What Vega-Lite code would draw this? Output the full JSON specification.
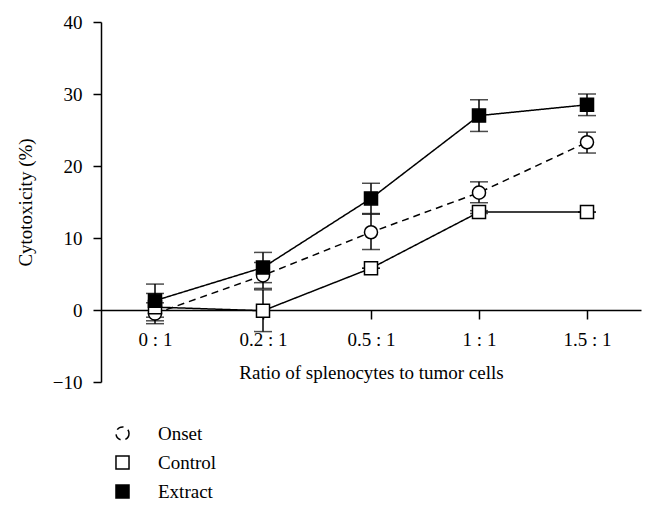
{
  "$schema": "https://vega.github.io/schema/vega-lite/v6.json",
  "width": 540,
  "height": 360,
  "autosize": {"type": "none"},
  "padding": {"left": 101, "top": 22, "right": 15, "bottom": 128},
  "background": "white",
  "config": {
    "font": "Liberation Serif",
    "view": {"stroke": null},
    "axis": {"labelFont": "Liberation Serif", "titleFont": "Liberation Serif", "labelFontSize": 19, "titleFontSize": 19, "titleFontWeight": "normal", "labelColor": "black", "titleColor": "black", "domainColor": "black", "tickColor": "black", "domainWidth": 1.5, "tickWidth": 1.5, "grid": false},
    "legend": {"labelFont": "Liberation Serif", "labelFontSize": 19, "labelColor": "black"}
  },
  "data": {
    "values": [
      {"ratio": "0 : 1", "series": "Onset", "mean": -0.5, "lo": -1.9, "hi": 1.0},
      {"ratio": "0.2 : 1", "series": "Onset", "mean": 4.8, "lo": 3.0, "hi": 6.6},
      {"ratio": "0.5 : 1", "series": "Onset", "mean": 10.8, "lo": 8.4, "hi": 13.3},
      {"ratio": "1 : 1", "series": "Onset", "mean": 16.3, "lo": 14.9, "hi": 17.8},
      {"ratio": "1.5 : 1", "series": "Onset", "mean": 23.3, "lo": 21.8, "hi": 24.7},
      {"ratio": "0 : 1", "series": "Control", "mean": 0.4, "lo": -1.5, "hi": 2.3},
      {"ratio": "0.2 : 1", "series": "Control", "mean": -0.1, "lo": -3.0, "hi": 2.8},
      {"ratio": "0.5 : 1", "series": "Control", "mean": 5.8, "lo": 5.8, "hi": 5.8},
      {"ratio": "1 : 1", "series": "Control", "mean": 13.6, "lo": 13.4, "hi": 13.8},
      {"ratio": "1.5 : 1", "series": "Control", "mean": 13.6, "lo": 13.6, "hi": 13.6},
      {"ratio": "0 : 1", "series": "Extract", "mean": 1.3, "lo": -1.0, "hi": 3.6},
      {"ratio": "0.2 : 1", "series": "Extract", "mean": 5.9, "lo": 3.8, "hi": 8.0},
      {"ratio": "0.5 : 1", "series": "Extract", "mean": 15.5, "lo": 13.4, "hi": 17.6},
      {"ratio": "1 : 1", "series": "Extract", "mean": 27.0, "lo": 24.8, "hi": 29.2},
      {"ratio": "1.5 : 1", "series": "Extract", "mean": 28.5, "lo": 27.0, "hi": 30.0}
    ]
  },
  "encoding": {
    "x": {
      "field": "ratio", "type": "nominal",
      "sort": ["0 : 1", "0.2 : 1", "0.5 : 1", "1 : 1", "1.5 : 1"],
      "scale": {"type": "point", "padding": 0.5},
      "axis": {"title": "Ratio of splenocytes to tumor cells", "labelAngle": 0, "offset": -72, "tickSize": 9, "labelPadding": 11, "titlePadding": 14}
    }
  },
  "layer": [
    {
      "mark": {"type": "rule", "color": "black", "strokeWidth": 1.5},
      "encoding": {
        "y": {"field": "lo", "type": "quantitative", "scale": {"domain": [-10, 40], "nice": false}, "axis": {"title": "Cytotoxicity (%)", "values": [-10, 0, 10, 20, 30, 40], "tickSize": 8, "labelPadding": 11, "titlePadding": 17}},
        "y2": {"field": "hi"},
        "detail": {"field": "series"}
      }
    },
    {
      "mark": {"type": "tick", "color": "black", "thickness": 1.5, "size": 18},
      "encoding": {"y": {"field": "lo", "type": "quantitative"}}
    },
    {
      "mark": {"type": "tick", "color": "black", "thickness": 1.5, "size": 18},
      "encoding": {"y": {"field": "hi", "type": "quantitative"}}
    },
    {
      "mark": {"type": "line", "color": "black", "strokeWidth": 1.5},
      "encoding": {
        "y": {"field": "mean", "type": "quantitative"},
        "strokeDash": {
          "field": "series", "type": "nominal",
          "scale": {"domain": ["Onset", "Control", "Extract"], "range": [[7, 5], [1, 0], [1, 0]]}
        }
      }
    },
    {
      "mark": {"type": "point", "size": 170, "strokeWidth": 1.5, "stroke": "black", "opacity": 1, "filled": true},
      "encoding": {
        "y": {"field": "mean", "type": "quantitative"},
        "shape": {
          "field": "series", "type": "nominal",
          "scale": {"domain": ["Onset", "Control", "Extract"], "range": ["circle", "square", "square"]},
          "legend": {
            "title": null, "orient": "none", "legendX": 12, "legendY": 402, "padding": 0,
            "symbolSize": 170, "symbolStrokeColor": "black", "symbolStrokeWidth": 1.5,
            "labelOffset": 26, "rowPadding": 8
          }
        },
        "fill": {
          "field": "series", "type": "nominal",
          "scale": {"domain": ["Onset", "Control", "Extract"], "range": ["white", "white", "black"]}
        }
      }
    }
  ]
}
